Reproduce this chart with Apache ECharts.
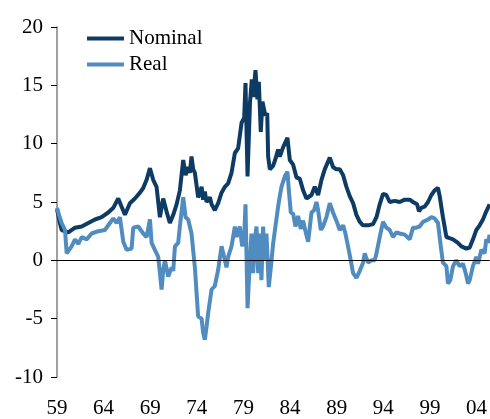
<!DOCTYPE html>
<html>
<head>
<meta charset="utf-8">
<script src="https://cdn.jsdelivr.net/npm/echarts@6/dist/echarts.min.js"></script>
<style>
  html, body { margin: 0; padding: 0; background: #fff; }
  #chart { width: 490px; height: 419px; }
</style>
</head>
<body>
<div id="chart"></div>
<script>
// years as decimal, values in percent
const nominalYears = [
  1959.00, 1959.25, 1959.50, 1960.21, 1960.93, 1961.65, 1962.36, 1963.07, 1963.79, 1964.50,
  1965.04, 1965.57, 1965.93, 1966.29, 1966.82, 1967.36, 1967.90, 1968.25, 1968.61, 1968.97,
  1969.32, 1969.68, 1970.04, 1970.39, 1970.75, 1971.11, 1971.47, 1971.83, 1972.18, 1972.54,
  1972.79, 1973.07, 1973.25, 1973.43, 1973.61, 1973.79, 1974.14, 1974.33, 1974.51, 1974.68,
  1974.86, 1975.04, 1975.40, 1975.58, 1975.93, 1976.29, 1976.65, 1977.01, 1977.36, 1977.72,
  1978.08, 1978.43, 1978.61, 1978.80, 1979.08, 1979.22, 1979.44, 1979.70, 1979.90, 1980.05,
  1980.29, 1980.50, 1980.65, 1980.86, 1981.04, 1981.35, 1981.55, 1981.65, 1981.83, 1982.18,
  1982.40, 1982.72, 1982.90, 1983.26, 1983.72, 1983.97, 1984.33, 1984.69, 1985.04, 1985.40,
  1985.76, 1986.30, 1986.65, 1987.01, 1987.37, 1987.72, 1988.26, 1988.61, 1988.97, 1989.33,
  1989.69, 1990.05, 1990.40, 1990.76, 1991.12, 1991.48, 1991.83, 1992.37, 1992.90, 1993.27,
  1993.62, 1993.97, 1994.33, 1994.69, 1995.23, 1995.76, 1996.30, 1996.83, 1997.19, 1997.62,
  1997.83, 1998.08, 1998.44, 1998.80, 1999.16, 1999.51, 1999.87, 2000.05, 2000.40, 2000.77,
  2001.12, 2001.48, 2002.01, 2002.38, 2002.91, 2003.27, 2003.62, 2003.98, 2004.34, 2004.69,
  2005.05, 2005.41
]
const nominalValues = [
  4.4, 3.4, 2.6, 2.4, 2.8, 2.9, 3.2, 3.5, 3.7, 4.1,
  4.5, 5.3, 4.6, 3.9, 4.9, 5.3, 5.8, 6.2, 6.9, 7.9,
  6.9, 6.3, 3.7, 5.3, 4.2, 3.2, 3.9, 4.8, 6.0, 8.6,
  7.3, 8.0, 7.5, 8.9, 7.8, 7.5, 5.4, 5.7, 6.3, 5.2,
  5.9, 5.0, 5.4, 4.8, 4.3, 4.9, 5.8, 6.3, 6.6, 7.5,
  9.2, 9.6, 9.7, 11.8, 12.2, 15.2, 7.2, 13.5, 15.5, 14.0,
  16.3, 13.8, 15.3, 11.0, 13.6, 12.4, 12.6, 8.9, 7.8, 8.1,
  8.6, 9.5, 8.9, 9.7, 10.5, 8.6, 8.2, 7.1, 7.0, 6.0,
  5.3, 5.6, 6.3, 5.6, 6.9, 7.8, 8.8, 8.0, 7.8, 7.8,
  7.3, 6.3, 5.5, 4.9, 3.9, 3.3, 3.0, 3.0, 3.1, 3.7,
  4.8, 5.7, 5.6, 5.0, 5.1, 5.0, 5.2, 5.2, 5.0, 4.8,
  4.2, 4.5, 4.6, 5.0, 5.6, 6.0, 6.2, 5.5, 3.7, 2.0,
  1.9, 1.8, 1.5, 1.2, 1.0, 1.1, 1.8, 2.6, 3.0, 3.5,
  4.2, 4.8
]

const realYears = [
  1959.00, 1959.25, 1959.50, 1959.86, 1960.04, 1960.30, 1960.57, 1960.93, 1961.29, 1961.65,
  1962.18, 1962.72, 1963.43, 1964.14, 1964.68, 1965.04, 1965.40, 1965.75, 1966.11, 1966.47,
  1967.00, 1967.18, 1967.72, 1968.25, 1968.61, 1968.97, 1969.15, 1969.50, 1969.86, 1970.04,
  1970.22, 1970.40, 1970.58, 1970.93, 1971.11, 1971.29, 1971.47, 1971.65, 1972.00, 1972.18,
  1972.54, 1972.79, 1973.07, 1973.43, 1973.79, 1974.14, 1974.51, 1974.68, 1974.86, 1975.04,
  1975.22, 1975.58, 1975.93, 1976.29, 1976.65, 1977.01, 1977.18, 1977.36, 1977.72, 1978.08,
  1978.26, 1978.61, 1978.86, 1979.08, 1979.22, 1979.44, 1979.69, 1979.86, 1980.04, 1980.22,
  1980.40, 1980.58, 1980.76, 1980.93, 1981.11, 1981.29, 1981.47, 1981.72, 1981.94, 1982.18,
  1982.43, 1982.72, 1982.90, 1983.08, 1983.44, 1983.72, 1983.87, 1984.08, 1984.33, 1984.58,
  1984.86, 1985.15, 1985.40, 1985.65, 1985.94, 1986.30, 1986.58, 1986.83, 1987.01, 1987.30,
  1987.54, 1987.90, 1988.26, 1988.61, 1988.97, 1989.33, 1989.69, 1989.94, 1990.22, 1990.51,
  1990.76, 1991.12, 1991.48, 1991.83, 1992.01, 1992.37, 1992.73, 1993.08, 1993.27, 1993.62,
  1993.97, 1994.33, 1994.69, 1995.04, 1995.40, 1995.76, 1996.30, 1996.83, 1997.19, 1997.55,
  1997.90, 1998.26, 1998.80, 1999.16, 1999.51, 1999.87, 2000.12, 2000.40, 2000.77, 2000.94,
  2001.19, 2001.48, 2001.83, 2002.19, 2002.55, 2002.84, 2003.09, 2003.27, 2003.62, 2003.98,
  2004.16, 2004.52, 2004.87, 2005.05, 2005.23, 2005.41
]
const realValues = [
  4.5, 3.8, 3.2, 2.6, 0.6, 0.9, 1.2, 1.8, 1.4, 2.0,
  1.8, 2.3, 2.5, 2.6, 3.2, 3.6, 3.2, 3.7, 1.6, 0.9,
  1.0, 2.8, 2.9, 2.3, 2.0, 3.5, 1.5, 0.9, 0.3, -1.1,
  -2.5, -0.8, 0.0, -1.4, -1.5, -0.6, -0.9, 1.2, 1.5, 2.9,
  5.4, 3.7, 3.5, 2.3, -0.6, -4.8, -5.0, -6.2, -6.8, -5.7,
  -4.5, -2.5, -2.2, -0.8, 1.2, 0.0, -0.6, 0.3, 1.2, 2.9,
  2.0, 2.9, 1.2, 2.0, 4.8, -4.1, 0.0, 2.3, -1.1, 1.7,
  2.9, -1.1, 2.3, -1.7, 2.9, 0.0, 2.3, -2.3, -0.6, 1.4,
  2.9, 4.6, 5.5, 6.3, 7.2, 7.6, 6.0, 4.1, 4.0, 2.9,
  3.8, 2.7, 3.4, 2.5, 1.6, 4.1, 4.3, 5.0, 4.3, 2.6,
  2.9, 3.7, 4.9, 4.1, 3.4, 2.6, 3.0, 2.3, 1.2, 0.0,
  -1.1, -1.5, -0.9, -0.2, 0.6, -0.2, 0.0, 0.0, 0.6, 2.0,
  3.3, 2.8, 2.6, 2.0, 2.4, 2.3, 2.2, 1.8, 2.8, 2.8,
  2.9, 3.3, 3.5, 3.7, 3.6, 3.2, 1.5, -0.2, -0.5, -2.0,
  -1.7, -0.5, 0.0, -0.5, -0.3, -1.1, -2.0, -1.7, -0.5, 0.3,
  -0.3, 0.9, 0.6, 1.8, 1.5, 2.2
]

const startYear = 1959
const endYear = 2005.41
const yTicks = { min: -10, max: 20, step: 5 }
const seriesNames = ['Nominal', 'Real']
const colors = ['#0e3b63', '#508cbf']

const font = "'Liberation Serif', 'Times New Roman', serif"

function toPairs (years, values) {
  return years.map((y, i) => [y - startYear, values[i]])
}

const chart = echarts.init(document.getElementById('chart'))
const option = {
  animation: false,
  grid: { left: 57, right: 0, top: 27, bottom: 42 },
  legend: {
    data: seriesNames,
    orient: 'vertical',
    left: 87,
    top: 28,
    padding: 0,
    itemGap: 5,
    itemWidth: 37,
    itemHeight: 4,
    icon: 'rect',
    textStyle: { fontFamily: font, fontSize: 21, color: '#000' }
  },
  xAxis: {
    type: 'value',
    min: 0,
    max: endYear - startYear,
    interval: 5,
    axisLine: { show: false, onZero: false },
    axisTick: { show: false },
    splitLine: { show: false },
    axisLabel: {
      margin: 21,
      showMaxLabel: false,
      fontFamily: font,
      fontSize: 21,
      color: '#000',
      formatter: v => String((startYear + v) % 100).padStart(2, '0')
    }
  },
  yAxis: {
    type: 'value',
    min: yTicks.min,
    max: yTicks.max,
    interval: yTicks.step,
    axisLine: { show: true, lineStyle: { color: '#808080', width: 1.5 } },
    axisTick: { show: true, inside: false, length: 6, lineStyle: { color: '#000' } },
    splitLine: { show: false },
    axisLabel: { margin: 14, fontFamily: font, fontSize: 21, color: '#000' }
  },
  series: [
    {
      name: seriesNames[0],
      type: 'line',
      data: toPairs(nominalYears, nominalValues),
      showSymbol: false,
      color: colors[0],
      lineStyle: { width: 4, color: colors[0] }
    },
    {
      name: seriesNames[1],
      type: 'line',
      data: toPairs(realYears, realValues),
      showSymbol: false,
      color: colors[1],
      lineStyle: { width: 4, color: colors[1] },
      markLine: {
        silent: true,
        symbol: 'none',
        label: { show: false },
        lineStyle: { color: '#000', width: 1, type: 'solid' },
        data: [{ yAxis: 0 }]
      }
    }
  ]
}
chart.setOption(option)
</script>
</body>
</html>
